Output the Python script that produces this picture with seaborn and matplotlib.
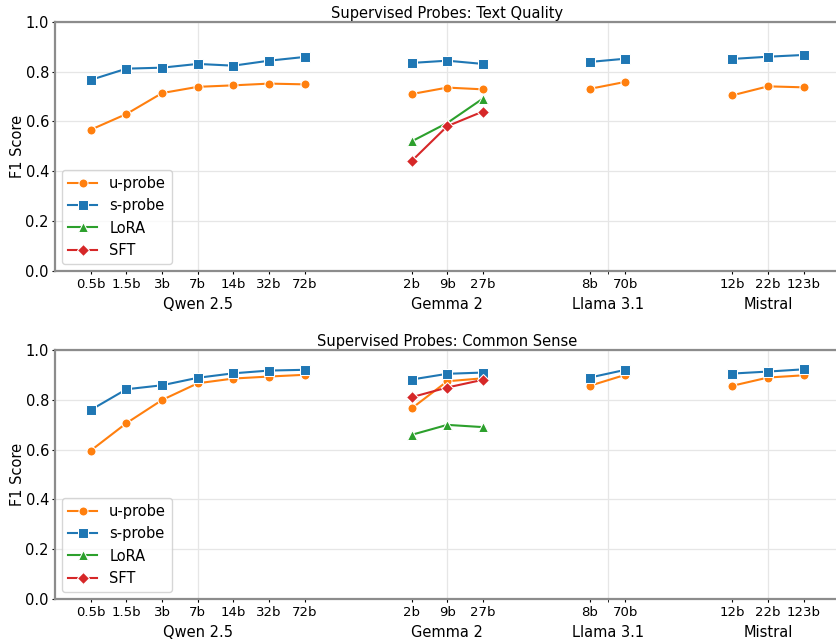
import numpy as np
import pandas as pd
import seaborn as sns
import matplotlib
matplotlib.use("Agg")
import matplotlib.pyplot as plt

# model families and sizes
groups = ["Qwen 2.5", "Gemma 2", "Llama 3.1", "Mistral"]
group_models = [
    ["0.5b", "1.5b", "3b", "7b", "14b", "32b", "72b"],
    ["2b", "9b", "27b"],
    ["8b", "70b"],
    ["12b", "22b", "123b"],
]

nan = np.nan
# Text Quality (order: Qwen x7, Gemma x3, Llama x2, Mistral x3)
tq_uprobe = [0.567, 0.630, 0.714, 0.739, 0.745, 0.752, 0.749,
             0.710, 0.736, 0.729, 0.731, 0.759, 0.705, 0.741, 0.737]
tq_sprobe = [0.767, 0.812, 0.816, 0.831, 0.824, 0.844, 0.859,
             0.835, 0.844, 0.831, 0.839, 0.852, 0.851, 0.860, 0.867]
tq_lora = [nan] * 7 + [0.520, 0.594, 0.692] + [nan] * 5
tq_sft = [nan] * 7 + [0.441, 0.581, 0.640] + [nan] * 5

# Common Sense
cs_uprobe = [0.596, 0.706, 0.799, 0.866, 0.885, 0.893, 0.900,
             0.765, 0.874, 0.886, 0.856, 0.900, 0.856, 0.889, 0.898]
cs_sprobe = [0.759, 0.842, 0.858, 0.888, 0.906, 0.917, 0.920,
             0.881, 0.904, 0.909, 0.889, 0.920, 0.905, 0.913, 0.922]
cs_lora = [nan] * 7 + [0.659, 0.699, 0.690] + [nan] * 5
cs_sft = [nan] * 7 + [0.810, 0.849, 0.880] + [nan] * 5

methods = ["u-probe", "s-probe", "LoRA", "SFT"]
palette = {"u-probe": "#ff7f0e", "s-probe": "#1f77b4", "LoRA": "#2ca02c", "SFT": "#d62728"}
markers = {"u-probe": "o", "s-probe": "s", "LoRA": "^", "SFT": "D"}

# x positions: families separated by a gap of 2 slots
xpos, labels, fam, centers = [], [], [], []
start = 0
for g, ms in zip(groups, group_models):
    idx = list(range(start, start + len(ms)))
    xpos += idx
    labels += ms
    fam += [g] * len(ms)
    centers.append((idx[0] + idx[-1]) / 2)
    start += len(ms) + 2


def make_df(series):
    rows = []
    for m, vals in zip(methods, series):
        for x, f, v in zip(xpos, fam, vals):
            rows.append({"x": x, "family": f, "method": m, "f1": v,
                         "seg": m + "|" + f})
    return pd.DataFrame(rows).dropna()


panels = [
    ("Supervised Probes: Text Quality", [tq_uprobe, tq_sprobe, tq_lora, tq_sft]),
    ("Supervised Probes: Common Sense", [cs_uprobe, cs_sprobe, cs_lora, cs_sft]),
]

fig = plt.figure(figsize=(8.36, 6.42), dpi=100)
axes = [fig.add_axes([0.066, 0.578, 0.938, 0.388]),
        fig.add_axes([0.066, 0.067, 0.938, 0.388])]

for ax, (title, series) in zip(axes, panels):
    df = make_df(series)
    sns.lineplot(data=df, x="x", y="f1", hue="method", style="method",
                 units="seg", estimator=None, hue_order=methods,
                 style_order=methods, palette=palette, markers=markers,
                 dashes=False, markersize=6.5, linewidth=1.5, ax=ax)
    ax.set_xlim(-1, 21)
    ax.set_ylim(0, 1)
    ax.xaxis.remove_overlapping_locs = False
    ax.set_yticks(np.arange(0, 1.01, 0.2))
    ax.set_yticklabels([f"{v:.1f}" for v in np.arange(0, 1.01, 0.2)], fontsize=10.5)
    ax.set_xticks(xpos)
    ax.set_xticklabels(labels, fontsize=9.5)
    ax.set_xticks(centers, minor=True)
    ax.set_xticklabels(groups, minor=True, fontsize=10.5)
    ax.tick_params(axis="y", length=2.5, pad=2)
    ax.tick_params(axis="x", which="major", length=2.5, pad=2.5)
    ax.tick_params(axis="x", which="minor", length=2.5, pad=16)
    ax.grid(axis="y", which="major", color="#e6e6e6", lw=0.9)
    ax.grid(axis="x", which="minor", color="#e6e6e6", lw=0.9)
    ax.grid(axis="x", which="major", visible=False)
    ax.set_axisbelow(True)
    for sp in ax.spines.values():
        sp.set_color("#8c8c8c")
        sp.set_linewidth(1.6)
    ax.spines["right"].set_visible(False)
    ax.set_xlabel("")
    ax.set_ylabel("F1 Score", fontsize=10.5, labelpad=0)
    ax.set_title(title, fontsize=10.5, pad=3)
    sns.move_legend(ax, "lower left", title=None, fontsize=10.5)

fig.savefig("out.png", dpi=100)
